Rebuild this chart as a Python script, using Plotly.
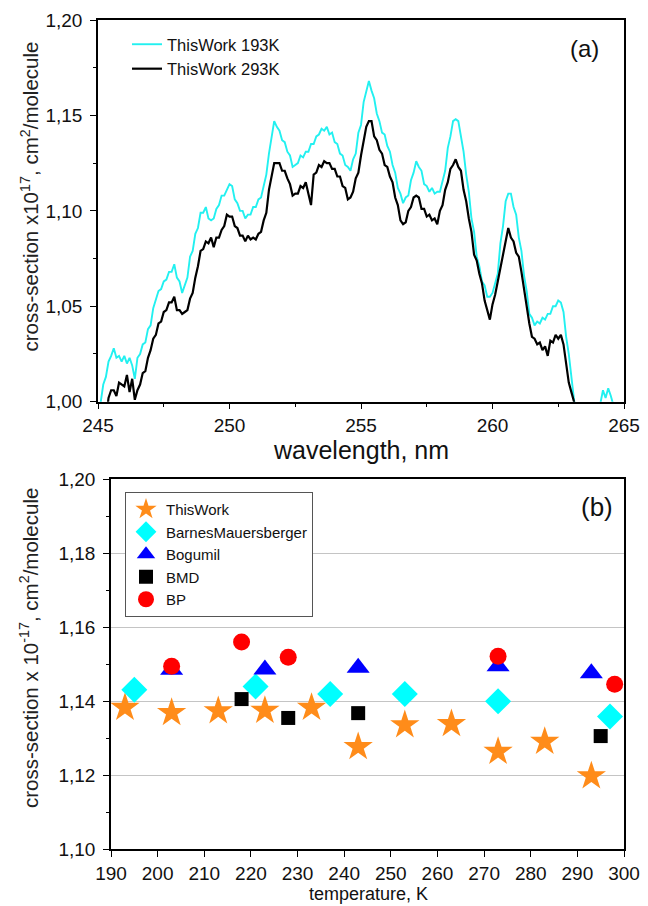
import plotly.graph_objects as go

# ---------------- data: panel (a) spectra, sampled every 0.1 nm from 245.0 to 265.0 ----------------
wl_start = 245.0
wl_step = 0.1
xs_193K = [
    0.990, 1.000, 1.009, 1.013, 1.021, 1.024, 1.028, 1.023, 1.024, 1.021,
    1.024, 1.020, 1.023, 1.019, 1.012, 1.023, 1.025, 1.030, 1.031, 1.038,
    1.040, 1.049, 1.053, 1.058, 1.059, 1.063, 1.064, 1.068, 1.068, 1.072,
    1.065, 1.063, 1.057, 1.061, 1.065, 1.076, 1.079, 1.088, 1.091, 1.099,
    1.099, 1.102, 1.096, 1.095, 1.096, 1.101, 1.103, 1.108, 1.108, 1.111,
    1.114, 1.113, 1.106, 1.104, 1.100, 1.100, 1.096, 1.098, 1.098, 1.102,
    1.102, 1.106, 1.107, 1.113, 1.119, 1.130, 1.139, 1.147, 1.144, 1.142,
    1.137, 1.136, 1.131, 1.129, 1.123, 1.124, 1.125, 1.129, 1.128, 1.131,
    1.131, 1.135, 1.135, 1.139, 1.140, 1.143, 1.142, 1.144, 1.140, 1.141,
    1.136, 1.135, 1.130, 1.129, 1.124, 1.123, 1.121, 1.127, 1.130, 1.141,
    1.145, 1.157, 1.162, 1.168, 1.163, 1.159, 1.151, 1.147, 1.141, 1.140,
    1.134, 1.131, 1.124, 1.120, 1.112, 1.109, 1.104, 1.107, 1.108, 1.116,
    1.120, 1.126, 1.123, 1.121, 1.114, 1.113, 1.110, 1.112, 1.109, 1.110,
    1.110, 1.116, 1.121, 1.133, 1.139, 1.147, 1.148, 1.147, 1.138, 1.131,
    1.119, 1.110, 1.096, 1.089, 1.076, 1.071, 1.063, 1.061, 1.055, 1.055,
    1.057, 1.062, 1.067, 1.083, 1.092, 1.105, 1.109, 1.109, 1.102, 1.098,
    1.086, 1.079, 1.066, 1.058, 1.046, 1.044, 1.040, 1.042, 1.041, 1.044,
    1.043, 1.046, 1.046, 1.050, 1.050, 1.053, 1.052, 1.047, 1.034, 1.025,
    1.011, 1.001, 0.990, 0.990, 0.990, 0.990, 0.990, 0.990, 0.990, 0.990,
    0.990, 0.999, 1.006, 1.002, 1.007, 1.003, 0.998, 0.990, 0.990, 0.990,
    0.990,
]
xs_293K = [
    0.990, 0.990, 0.990, 0.990, 1.002, 1.006, 1.006, 1.003, 1.010, 1.009,
    1.008, 1.014, 1.005, 1.012, 1.001, 1.006, 1.009, 1.015, 1.016, 1.023,
    1.027, 1.033, 1.035, 1.041, 1.042, 1.047, 1.048, 1.052, 1.052, 1.055,
    1.048, 1.048, 1.046, 1.047, 1.048, 1.054, 1.057, 1.065, 1.071, 1.079,
    1.080, 1.084, 1.083, 1.086, 1.081, 1.086, 1.086, 1.090, 1.092, 1.098,
    1.097, 1.097, 1.092, 1.091, 1.087, 1.087, 1.084, 1.087, 1.085, 1.086,
    1.085, 1.088, 1.089, 1.095, 1.099, 1.111, 1.118, 1.125, 1.125, 1.125,
    1.121, 1.121, 1.117, 1.114, 1.108, 1.109, 1.109, 1.113, 1.112, 1.115,
    1.109, 1.103, 1.119, 1.120, 1.124, 1.123, 1.126, 1.125, 1.125, 1.122,
    1.122, 1.118, 1.118, 1.113, 1.112, 1.106, 1.107, 1.110, 1.117, 1.120,
    1.129, 1.136, 1.144, 1.147, 1.147, 1.139, 1.137, 1.132, 1.130, 1.124,
    1.123, 1.118, 1.115, 1.107, 1.103, 1.095, 1.093, 1.094, 1.100, 1.102,
    1.107, 1.108, 1.107, 1.101, 1.101, 1.097, 1.098, 1.095, 1.096, 1.093,
    1.100, 1.103, 1.111, 1.115, 1.122, 1.124, 1.127, 1.123, 1.121, 1.111,
    1.105, 1.096, 1.089, 1.077, 1.074, 1.067, 1.062, 1.053, 1.048, 1.043,
    1.051, 1.056, 1.063, 1.070, 1.079, 1.084, 1.091, 1.086, 1.084, 1.078,
    1.076, 1.068, 1.059, 1.049, 1.041, 1.034, 1.033, 1.030, 1.031, 1.027,
    1.029, 1.024, 1.032, 1.031, 1.035, 1.033, 1.035, 1.030, 1.021, 1.010,
    1.005, 1.000, 0.990, 0.990, 0.990, 0.990, 0.990, 0.990, 0.990, 0.990,
    0.990, 0.990, 0.990, 0.990, 0.990, 0.990, 0.990, 0.990, 0.990, 0.990,
    0.990,
]
wavelength = [round(wl_start + wl_step * i, 1) for i in range(len(xs_193K))]

# ---------------- data: panel (b) temperature dependence ----------------
thiswork_T = [193, 203, 213, 223, 233, 243, 253, 263, 273, 283, 293]
thiswork_xs = [1.1383, 1.1369, 1.1374, 1.1375, 1.1383, 1.1277, 1.1336, 1.1339, 1.1264, 1.1291, 1.1198]
barnes_T = [195, 221, 237, 253, 273, 297]
barnes_xs = [1.1431, 1.1440, 1.1420, 1.1420, 1.1400, 1.1359]
bogumil_T = [203, 223, 243, 273, 293]
bogumil_xs = [1.1485, 1.1486, 1.1491, 1.1495, 1.1476]
bmd_T = [218, 228, 243, 295]
bmd_xs = [1.1406, 1.1355, 1.1368, 1.1306]
bp_T = [203, 218, 228, 273, 298]
bp_xs = [1.1495, 1.1560, 1.1519, 1.1522, 1.1446]

W, H = 648, 906
FONT = "Arial, Liberation Sans, sans-serif"
CYAN = "#22f0f0"
ORANGE = "#ff8c1a"

fig = go.Figure()

# panel (a)
fig.add_trace(go.Scatter(x=wavelength, y=xs_193K, mode="lines", name="ThisWork 193K",
                         line=dict(color=CYAN, width=1.9), xaxis="x", yaxis="y", legend="legend"))
fig.add_trace(go.Scatter(x=wavelength, y=xs_293K, mode="lines", name="ThisWork 293K",
                         line=dict(color="black", width=2.2), xaxis="x", yaxis="y", legend="legend"))

# panel (b)
fig.add_trace(go.Scatter(x=thiswork_T, y=thiswork_xs, mode="markers", name="ThisWork",
                         marker=dict(symbol="star", size=22, color=ORANGE, line=dict(width=0)),
                         xaxis="x2", yaxis="y2", legend="legend2"))
fig.add_trace(go.Scatter(x=barnes_T, y=barnes_xs, mode="markers", name="BarnesMauersberger",
                         marker=dict(symbol="diamond", size=20, color="#00ffff", line=dict(width=0)),
                         xaxis="x2", yaxis="y2", legend="legend2"))
fig.add_trace(go.Scatter(x=bogumil_T, y=bogumil_xs, mode="markers", name="Bogumil",
                         marker=dict(symbol="triangle-up", size=20, color="#0000ff", line=dict(width=0)),
                         xaxis="x2", yaxis="y2", legend="legend2"))
fig.add_trace(go.Scatter(x=bmd_T, y=bmd_xs, mode="markers", name="BMD",
                         marker=dict(symbol="square", size=14, color="black", line=dict(width=0)),
                         xaxis="x2", yaxis="y2", legend="legend2"))
fig.add_trace(go.Scatter(x=bp_T, y=bp_xs, mode="markers", name="BP",
                         marker=dict(symbol="circle", size=17, color="#ff0000", line=dict(width=0)),
                         xaxis="x2", yaxis="y2", legend="legend2"))

axis_common = dict(showline=True, linecolor="black", linewidth=1.5, mirror=True,
                   ticks="outside", tickcolor="black", tickwidth=1.2, ticklen=6,
                   tickfont=dict(family=FONT, size=19, color="#111"), zeroline=False,
                   automargin=False)

fig.update_layout(
    width=W, height=H,
    margin=dict(l=0, r=0, t=0, b=0, autoexpand=False),
    paper_bgcolor="white", plot_bgcolor="white",
    separators=",.",
    showlegend=True,
    xaxis=dict(domain=[98 / W, 624 / W], anchor="y", range=[245, 265], dtick=5, tick0=245,
               showgrid=False, minor=dict(dtick=2.5, ticks="outside", ticklen=3.5, tickcolor="black", showgrid=False),
               **axis_common),
    yaxis=dict(domain=[1 - 401.7 / H, 1 - 20 / H], anchor="x", range=[1.0, 1.2], dtick=0.05, tick0=1.0,
               tickformat=".2f", showgrid=False, ticklabelstandoff=4,
               minor=dict(dtick=0.025, ticks="outside", ticklen=3.5, tickcolor="black", showgrid=False),
               **axis_common),
    xaxis2=dict(domain=[111 / W, 624 / W], anchor="y2", range=[190, 300], dtick=10, tick0=190,
                showgrid=False, **axis_common),
    yaxis2=dict(domain=[1 - 849.3 / H, 1 - 479.3 / H], anchor="x2", range=[1.10, 1.20], dtick=0.02, tick0=1.10,
                tickformat=".2f", showgrid=True, gridcolor="#c4c4c4", gridwidth=1, ticklabelstandoff=4,
                minor=dict(dtick=0.01, ticks="outside", ticklen=3.5, tickcolor="black", showgrid=False),
                **axis_common),
    legend=dict(x=127 / W, y=1 - 27 / H, xanchor="left", yanchor="top",
                bgcolor="rgba(0,0,0,0)", borderwidth=0,
                font=dict(family=FONT, size=16.5, color="#111"), tracegroupgap=0),
    legend2=dict(x=125 / W, y=1 - 492 / H, xanchor="left", yanchor="top",
                 bgcolor="white", bordercolor="#555", borderwidth=1,
                 font=dict(family=FONT, size=15, color="#111"), tracegroupgap=0,
                 itemsizing="trace"),
    annotations=[
        dict(text="cross-section x10<sup>17</sup>, cm<sup>2</sup>/molecule", xref="paper", yref="paper",
             x=29 / W, y=1 - 196.5 / H, xanchor="center", yanchor="middle", textangle=-90, showarrow=False,
             font=dict(family=FONT, size=20.5, color="#222")),
        dict(text="wavelength, nm", xref="paper", yref="paper", x=361 / W, y=1 - 450 / H,
             xanchor="center", yanchor="middle",
             showarrow=False, font=dict(family=FONT, size=25, color="#111")),
        dict(text="(a)", xref="paper", yref="paper", x=584 / W, y=1 - 48 / H,
             xanchor="center", yanchor="middle",
             showarrow=False, font=dict(family=FONT, size=24, color="#111")),
        dict(text="cross-section x 10<sup>-17</sup>, cm<sup>2</sup>/molecule", xref="paper", yref="paper",
             x=29 / W, y=1 - 648 / H, xanchor="center", yanchor="middle", textangle=-90, showarrow=False,
             font=dict(family=FONT, size=20.5, color="#222")),
        dict(text="temperature, K", xref="paper", yref="paper", x=368 / W, y=0.0,
             xanchor="center", yanchor="bottom", showarrow=False, font=dict(family=FONT, size=18, color="#111")),
        dict(text="(b)", xref="paper", yref="paper", x=597 / W, y=1 - 507 / H,
             xanchor="center", yanchor="middle",
             showarrow=False, font=dict(family=FONT, size=26, color="#111")),
    ],
)

fig.write_html("out.html")
